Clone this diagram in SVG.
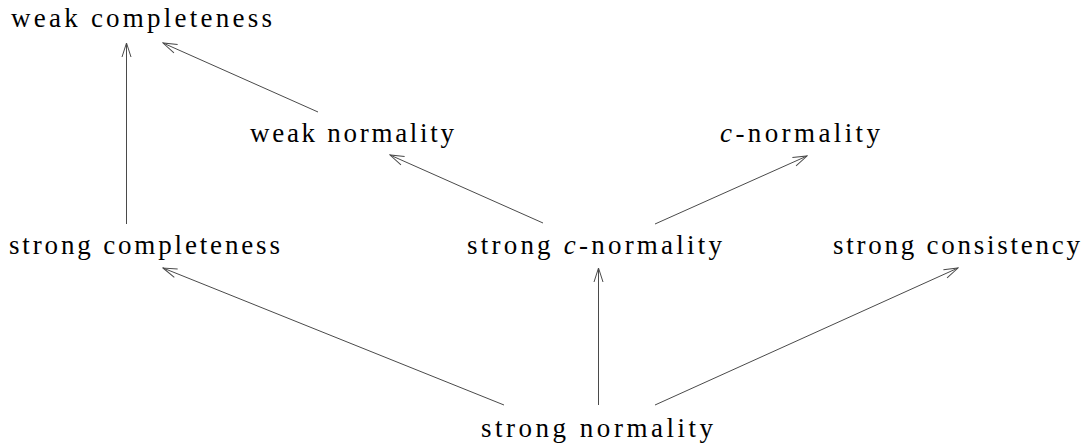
<svg xmlns="http://www.w3.org/2000/svg" width="1089" height="448" viewBox="0 0 1089 448">
<defs>
<style>
.lbl{font-family:"Liberation Serif","Times New Roman",serif;font-size:27px;fill:#000}
.it{font-style:italic}
.edge{stroke:#4a4a4a;stroke-width:1;fill:none;marker-end:url(#ah)}
</style>
<marker id="ah" viewBox="-16 -6 17 12" refX="0" refY="0" markerWidth="17" markerHeight="12" markerUnits="userSpaceOnUse" orient="auto">
<path d="M-14,-4.5 L0,0 L-14,4.5" fill="none" stroke="#4a4a4a" stroke-width="1"/>
</marker>
</defs>
<rect width="1089" height="448" fill="#fff"/>
<g id="connectors">
<line class="edge" x1="126.5" y1="224" x2="126.5" y2="43"/>
<line class="edge" x1="318" y1="112" x2="163" y2="43"/>
<line class="edge" x1="543" y1="223" x2="390" y2="155"/>
<line class="edge" x1="655" y1="224" x2="807" y2="156"/>
<line class="edge" x1="504" y1="405" x2="163" y2="268"/>
<line class="edge" x1="598.5" y1="405" x2="598.5" y2="268"/>
<line class="edge" x1="655" y1="405" x2="958" y2="268"/>
</g>
<g id="n-weak-completeness"><text class="lbl" x="11" y="27" textLength="261" lengthAdjust="spacing">weak completeness</text></g>
<g id="n-weak-normality"><text class="lbl" x="250" y="142" textLength="204" lengthAdjust="spacing">weak normality</text></g>
<g id="n-c-normality"><text class="lbl" x="720" y="142" textLength="160" lengthAdjust="spacing"><tspan class="it">c</tspan>-normality</text></g>
<g id="n-strong-completeness"><text class="lbl" x="9" y="254" textLength="271" lengthAdjust="spacing">strong completeness</text></g>
<g id="n-strong-c-normality"><text class="lbl" x="467" y="254" textLength="255" lengthAdjust="spacing">strong <tspan class="it">c</tspan>-normality</text></g>
<g id="n-strong-consistency"><text class="lbl" x="833" y="254" textLength="247" lengthAdjust="spacing">strong consistency</text></g>
<g id="n-strong-normality"><text class="lbl" x="481" y="437" textLength="232" lengthAdjust="spacing">strong normality</text></g>
</svg>
